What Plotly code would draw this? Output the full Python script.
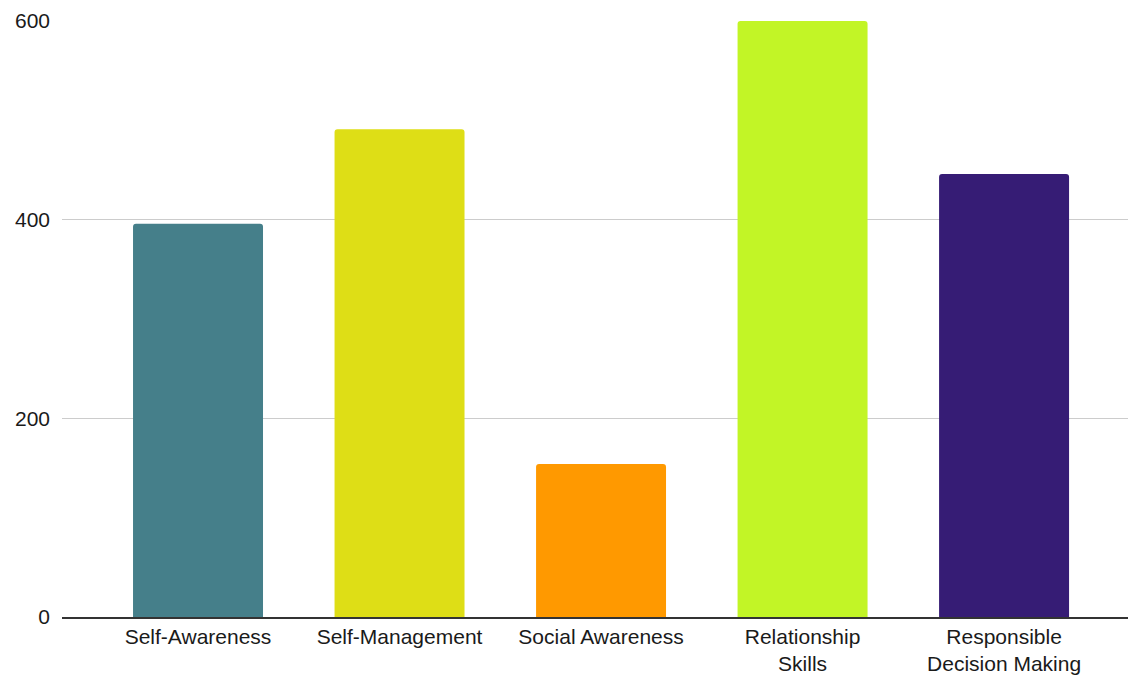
import plotly.graph_objects as go

categories = ["Self-Awareness", "Self-Management", "Social Awareness",
              "Relationship<br>Skills", "Responsible<br>Decision Making"]
values = [396, 491, 154, 600, 446]
colors = ["#457F8A", "#DEDE16", "#FF9900", "#C2F526", "#361C75"]
y_ticks = [0, 200, 400, 600]

fig = go.Figure(go.Bar(
    x=categories, y=values, marker=dict(color=colors, line=dict(width=0)),
    width=0.645,
))
fig.update_layout(
    width=1128, height=678,
    margin=dict(l=62, r=0, t=21, b=61, autoexpand=False),
    paper_bgcolor="white", plot_bgcolor="white",
    barcornerradius=3,
    showlegend=False,
    font=dict(family="Liberation Sans, Arial, sans-serif", size=21, color="#1a1a1a"),
)
fig.update_xaxes(
    range=[-0.675, 4.615], showline=True, linecolor="#333333", linewidth=1.5,
    showgrid=False, ticks="", automargin=False,
    tickfont=dict(size=21, color="#1a1a1a"),
)
fig.update_yaxes(
    range=[0, 600], tickvals=y_ticks, showgrid=True, gridcolor="#cccccc",
    gridwidth=1, zeroline=False, ticks="", ticklabelstandoff=11, automargin=False,
    tickfont=dict(size=21, color="#1a1a1a"),
)
fig.write_html(
    "out.html",
    config={"displayModeBar": False},
    post_script="document.body.style.margin='0';document.body.style.overflow='hidden';",
)
